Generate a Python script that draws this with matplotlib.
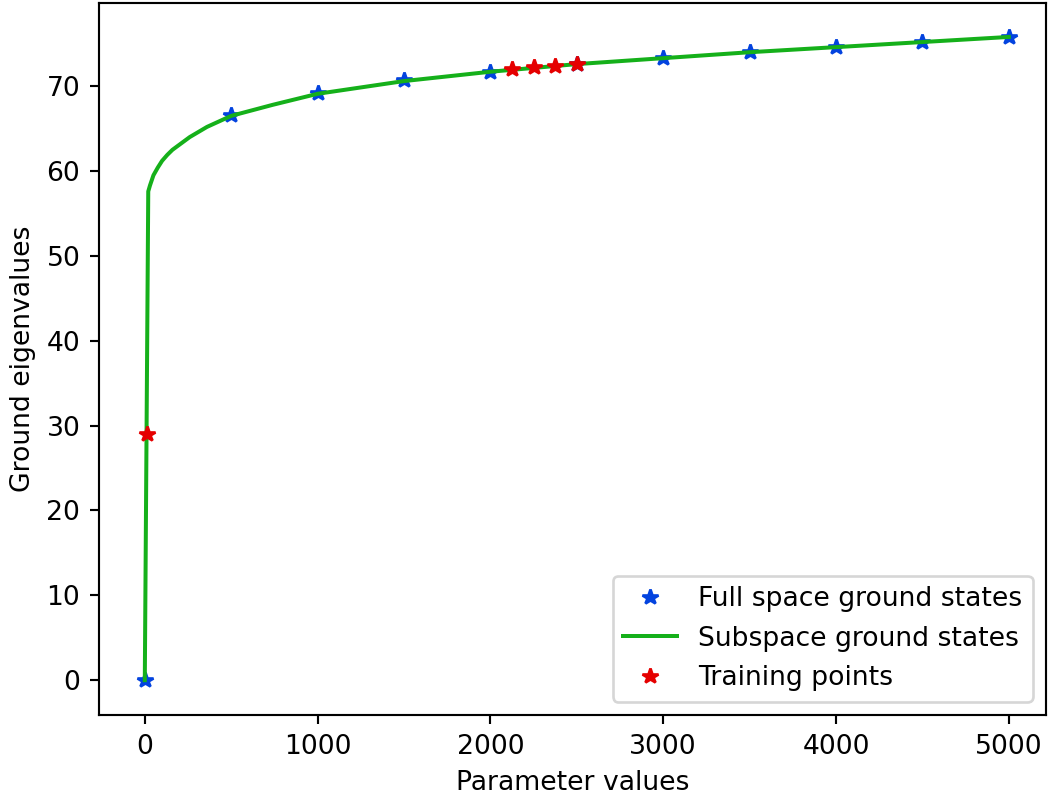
import numpy as np
import matplotlib
matplotlib.use("Agg")
import matplotlib.pyplot as plt

# full space ground states (exact diagonalisation)
full_x = [0, 500, 1000, 1500, 2000, 2500, 3000, 3500, 4000, 4500, 5000]
full_y = [0.0, 66.6, 69.2, 70.7, 71.7, 72.6, 73.3, 74.0, 74.6, 75.2, 75.8]

# subspace ground states
sub_x = [0, 20, 30, 50, 75, 100, 130, 160, 200, 260, 360, 500, 740, 1000,
         1500, 2000, 2500, 3000, 3500, 4000, 4500, 5000]
sub_y = [0.0, 57.6, 58.3, 59.5, 60.4, 61.2, 61.9, 62.5, 63.1, 64.0, 65.2,
         66.5, 67.8, 69.1, 70.6, 71.7, 72.6, 73.3, 74.0, 74.6, 75.2, 75.8]

# training points
train_x = [10, 2125, 2250, 2375, 2500]
train_y = [29.0, 72.0, 72.2, 72.4, 72.6]

dpi = 192
fig = plt.figure(figsize=(1048 / dpi, 796 / dpi), dpi=dpi)
ax = fig.add_axes([99 / 1048, 81 / 796, 947 / 1048, 712 / 796])

ax.plot(full_x, full_y, "*", color="xkcd:blue", label="Full space ground states")
ax.plot(sub_x, sub_y, "-", color="xkcd:green", label="Subspace ground states")
ax.plot(train_x, train_y, "*", color="xkcd:red", label="Training points")

ax.set_xlim(-265, 5215)
ax.set_ylim(-4.1, 79.8)
ax.set_xlabel("Parameter values")
ax.set_ylabel("Ground eigenvalues")
ax.legend(loc="lower right")

fig.savefig("out.png", dpi=dpi)
